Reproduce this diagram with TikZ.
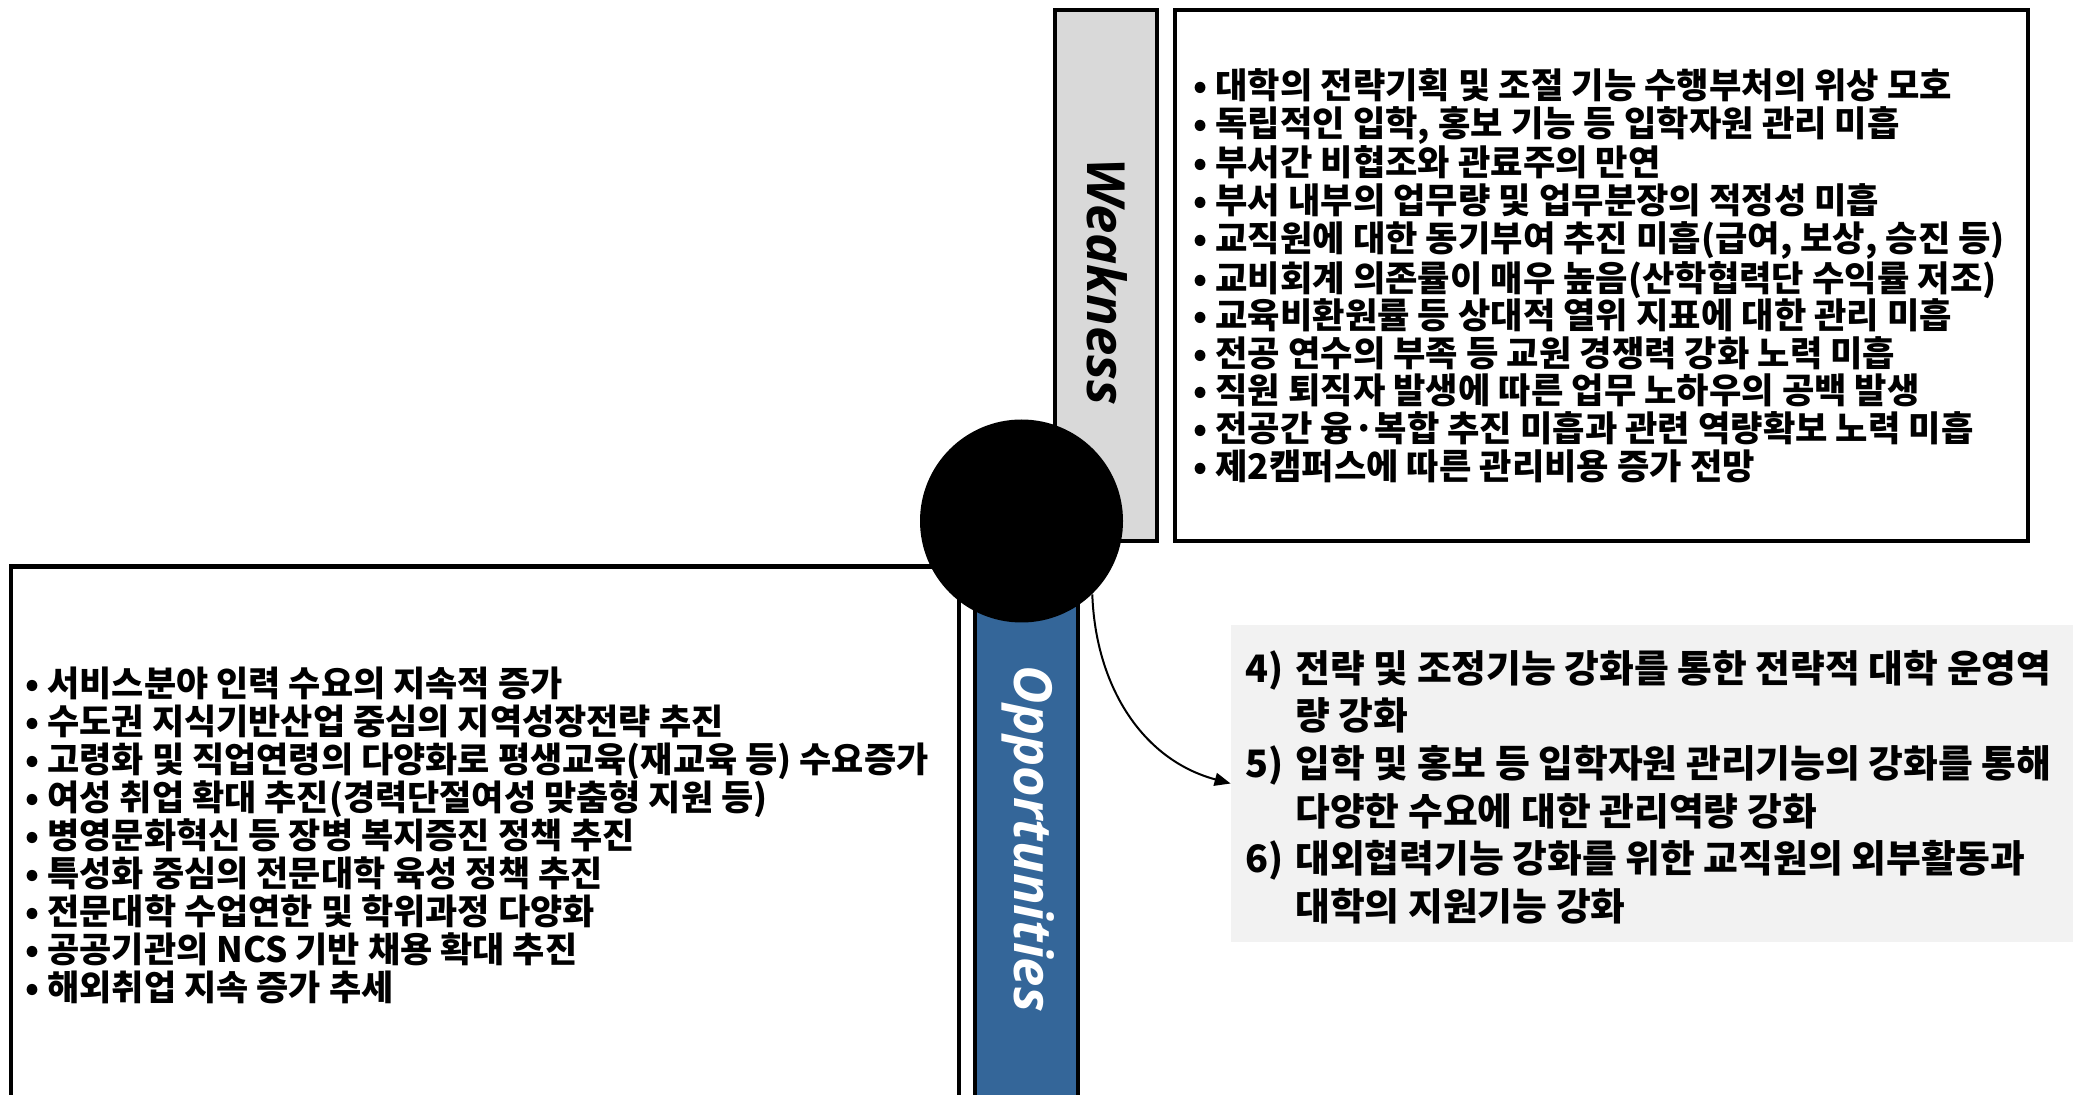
\documentclass[tikz,border=0pt]{standalone}
\usepackage{fontspec}
\usetikzlibrary{arrows.meta}
\newfontfamily\kr{Noto Sans CJK KR}
\newfontfamily\lab{Open Sans}
\definecolor{wgray}{RGB}{217,217,217}
\definecolor{oblue}{RGB}{52,102,153}
\definecolor{sgray}{RGB}{242,242,242}
\tikzset{
  frame/.style={draw=black, line width=2.4pt, rectangle, inner sep=0pt},
  bar/.style={draw=black, line width=2pt, rectangle, inner sep=0pt},
  listtext/.style={anchor=west, inner sep=0pt, align=left, font=\kr\bfseries\fontsize{17.6}{18.8}\selectfont},
  sidetext/.style={inner sep=0pt, rotate=-90, font=\lab\bfseries\itshape\fontsize{26.3}{30}\selectfont},
}
\begin{document}
\begin{tikzpicture}[x=0.5pt,y=-0.5pt]
\useasboundingbox (0,0) rectangle (2082,1095);
\fill[white] (0,0) rectangle (2082,1095);
\begin{scope}
\clip (0,0) rectangle (2082,1095);
% Opportunities frame and bar (run past the bottom edge)
\node[frame, minimum width=474pt, minimum height=316.5pt] (obox) at (485,883) {};
\node[bar, fill=oblue, minimum width=51.5pt, minimum height=320pt] (obar) at (1026.5,880) {};
% Weakness bar and frame
\node[bar, line width=2.4pt, fill=wgray, minimum width=51pt, minimum height=265.5pt] (wbar) at (1106,275.5) {};
\node[frame, minimum width=426.5pt, minimum height=265.5pt] (wbox) at (1601.5,275.5) {};
% strategy box
\node[fill=sgray, rectangle, inner sep=0pt, minimum width=421pt, minimum height=158.5pt] (sbox) at (1652,783.5) {};
% centre circle
\node[circle, fill=black, inner sep=0pt, minimum size=101.5pt] (circ) at (1021.5,521) {};
\end{scope}

\node[sidetext, text=black] (wlab) at (1107,282) {Weakness};
\node[sidetext, text=white] (olab) at (1028,839) {Opportunities};

\node[listtext] (wtext) at (1193,275.5) {%
• 대학의 전략기획 및 조절 기능 수행부처의 위상 모호\\
• 독립적인 입학, 홍보 기능 등 입학자원 관리 미흡\\
• 부서간 비협조와 관료주의 만연\\
• 부서 내부의 업무량 및 업무분장의 적정성 미흡\\
• 교직원에 대한 동기부여 추진 미흡(급여, 보상, 승진 등)\\
• 교비회계 의존률이 매우 높음(산학협력단 수익률 저조)\\
• 교육비환원률 등 상대적 열위 지표에 대한 관리 미흡\\
• 전공 연수의 부족 등 교원 경쟁력 강화 노력 미흡\\
• 직원 퇴직자 발생에 따른 업무 노하우의 공백 발생\\
• 전공간 융·복합 추진 미흡과 관련 역량확보 노력 미흡\\
• 제2캠퍼스에 따른 관리비용 증가 전망};

\node[listtext, font=\kr\bfseries\fontsize{17.5}{19}\selectfont] (otext) at (25,835) {%
• 서비스분야 인력 수요의 지속적 증가\\
• 수도권 지식기반산업 중심의 지역성장전략 추진\\
• 고령화 및 직업연령의 다양화로 평생교육(재교육 등) 수요증가\\
• 여성 취업 확대 추진(경력단절여성 맞춤형 지원 등)\\
• 병영문화혁신 등 장병 복지증진 정책 추진\\
• 특성화 중심의 전문대학 육성 정책 추진\\
• 전문대학 수업연한 및 학위과정 다양화\\
• 공공기관의 NCS 기반 채용 확대 추진\\
• 해외취업 지속 증가 추세};

\node[listtext, font=\kr\bfseries\fontsize{18.9}{23.8}\selectfont] (stext) at (1245,787) {%
\makebox[25pt][l]{4)}전략 및 조정기능 강화를 통한 전략적 대학 운영역\\
\hspace*{25pt}량 강화\\
\makebox[25pt][l]{5)}입학 및 홍보 등 입학자원 관리기능의 강화를 통해\\
\hspace*{25pt}다양한 수요에 대한 관리역량 강화\\
\makebox[25pt][l]{6)}대외협력기능 강화를 위한 교직원의 외부활동과\\
\hspace*{25pt}대학의 지원기능 강화};

\draw[line width=1pt, -{Triangle[length=8pt,width=6.5pt]}] (circ.-46) to[out=-88, in=165] (sbox.west);
\end{tikzpicture}
\end{document}
